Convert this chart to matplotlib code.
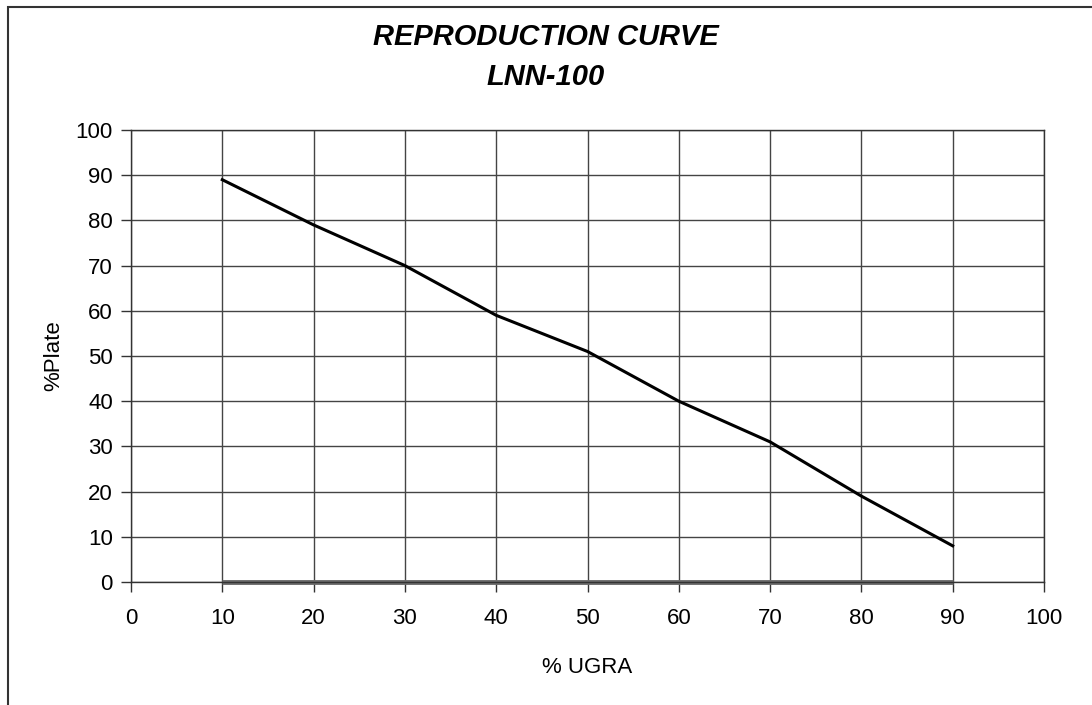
import matplotlib
matplotlib.use("Agg")
import matplotlib.pyplot as plt
from matplotlib.patches import Rectangle

ugra = [10, 20, 30, 40, 50, 60, 70, 80, 90]
plate = [89, 79, 70, 59, 51, 40, 31, 19, 8]
baseline = [0, 0, 0, 0, 0, 0, 0, 0, 0]
x_ticks = [0, 10, 20, 30, 40, 50, 60, 70, 80, 90, 100]
y_ticks = [0, 10, 20, 30, 40, 50, 60, 70, 80, 90, 100]
title_lines = ["REPRODUCTION CURVE", "LNN-100"]

plt.rcParams['font.family'] = ['Liberation Sans', 'DejaVu Sans']

W, H = 1092, 705
fig = plt.figure(figsize=(W / 100, H / 100), dpi=100)
ax = fig.add_axes([131 / W, 1 - 582 / H, (1044 - 131) / W, (582 - 130) / H])

# outer frame (right/bottom edges fall outside the image)
fig.patches.append(Rectangle((8 / W, -0.05), 1.2, 1 - 7 / H + 0.05,
                             transform=fig.transFigure, fill=False,
                             edgecolor='#333333', linewidth=1.5))

ax.set_xlim(0, 100)
ax.set_ylim(0, 100)
ax.set_xticks(x_ticks)
ax.set_yticks(y_ticks)
ax.grid(True, color='#444444', linewidth=1.0)
ax.set_axisbelow(True)

ax.plot(ugra, baseline, color='#6a6a6a', linewidth=3.5, solid_capstyle='butt',
        zorder=3, clip_on=False)
ax.plot(ugra, plate, color='black', linewidth=2.2, zorder=4)

for s in ax.spines.values():
    s.set_color('#333333')
    s.set_linewidth(1.0)
ax.spines['bottom'].set_zorder(5)
ax.tick_params(axis='both', direction='out', length=7, width=1, color='#333333',
               labelsize=16, pad=6)
ax.tick_params(axis='x', pad=12)

ax.set_xlabel('% UGRA', fontsize=16, labelpad=20)
ax.set_ylabel('%Plate', fontsize=16, labelpad=8)

fig.text(546 / W, 1 - 37 / H, title_lines[0], ha='center', va='center',
         fontsize=21, fontweight='bold', fontstyle='italic')
fig.text(546 / W, 1 - 77 / H, title_lines[1], ha='center', va='center',
         fontsize=21, fontweight='bold', fontstyle='italic')

fig.savefig('out.png', dpi=100, facecolor='white')
